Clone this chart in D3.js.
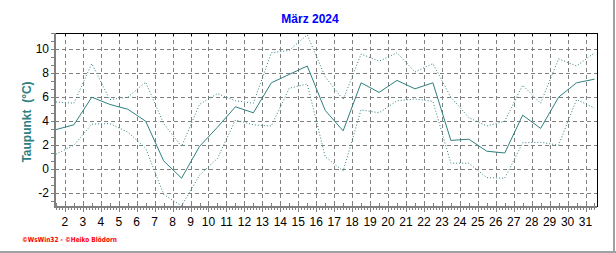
<!DOCTYPE html>
<html>
<head>
<meta charset="utf-8">
<script src="https://cdn.jsdelivr.net/npm/d3@7"></script>
<style>
  body { margin: 0; background: #fff; }
  svg { display: block; font-family: 'Liberation Sans', Arial, sans-serif; }
</style>
</head>
<body>
<div id="chart"></div>
<script>
// Taupunkt März 2024, daily values (mean, max, min)
const days = d3.range(1, 32)
const dewMean = [3.3, 3.7, 6.0, 5.4, 5.0, 4.0, 0.7, -0.75, 1.9, 3.5, 5.2, 4.7, 7.2, 7.9, 8.6, 4.9,
  3.2, 7.2, 6.4, 7.4, 6.7, 7.2, 2.4, 2.5, 1.5, 1.35, 4.5, 3.4, 6.0, 7.2, 7.5]
const dewMax = [5.6, 5.5, 8.8, 5.8, 6.0, 7.25, 3.8, 1.9, 5.4, 6.3, 5.7, 5.5, 9.7, 9.9, 11.2, 7.7,
  5.8, 9.6, 9.0, 9.7, 8.1, 8.8, 6.0, 4.3, 3.6, 4.0, 7.0, 5.5, 9.2, 8.6, 9.7]
const dewMin = [1.25, 2.0, 3.75, 3.8, 3.1, 1.75, -2.1, -3.05, -0.5, 0.9, 4.1, 3.7, 3.6, 6.75, 7.1, 1.05,
  -0.15, 4.95, 4.7, 5.7, 5.85, 5.65, 0.5, 0.5, -0.7, -0.75, 2.2, 2.25, 2.0, 5.8, 5.1]
const xTicks = d3.range(2, 32)
const yTicks = [-2, 0, 2, 4, 6, 8, 10]

const W = 616
const H = 253
const margin = { top: 33, right: 19, bottom: 46, left: 55 }
const lineColor = '#2f7f7f'
const gridColor = '#808080'

const svg = d3.select('#chart').append('svg')
  .attr('width', W)
  .attr('height', H)

const x = d3.scaleLinear().domain([1.45, 31.64]).range([margin.left, W - margin.right])
const y = d3.scaleLinear().domain([-3.15, 11.35]).range([H - margin.bottom, margin.top])

const x0 = x.range()[0]
const x1 = x.range()[1]
const y0 = y.range()[0]
const y1 = y.range()[1]

// outer frame shadow
svg.append('line').attr('x1', 614).attr('x2', 614).attr('y1', 0).attr('y2', H)
  .attr('stroke', '#a0a0a0').attr('stroke-width', 2)
svg.append('line').attr('x1', 0).attr('x2', W).attr('y1', 252).attr('y2', 252)
  .attr('stroke', '#a0a0a0').attr('stroke-width', 2)

// title
svg.append('text')
  .attr('x', 310).attr('y', 23)
  .attr('text-anchor', 'middle')
  .attr('fill', '#0000ff')
  .style('font-size', '12px')
  .style('font-weight', 'bold')
  .text('März 2024')

// grid
const grid = svg.append('g')
  .attr('stroke', gridColor)
  .attr('stroke-width', 1)
  .attr('stroke-dasharray', '4,3')
  .attr('shape-rendering', 'crispEdges')
grid.selectAll('.gy').data(yTicks).join('line')
  .attr('x1', x0).attr('x2', x1)
  .attr('y1', d => Math.round(y(d)) + 0.5).attr('y2', d => Math.round(y(d)) + 0.5)
grid.selectAll('.gx').data(xTicks).join('line')
  .attr('x1', d => Math.round(x(d)) + 0.5).attr('x2', d => Math.round(x(d)) + 0.5)
  .attr('y1', y1).attr('y2', y0)

// frame top/right
svg.append('path')
  .attr('d', `M${x0},${y1 + 0.5}H${x1 + 0.5}V${y0}`)
  .attr('fill', 'none').attr('stroke', '#000').attr('stroke-width', 1)
  .attr('shape-rendering', 'crispEdges')

// x axis ticks
const ax = svg.append('g').attr('stroke', gridColor).attr('shape-rendering', 'crispEdges')
const minorX = d3.range(Math.ceil(x.domain()[0] * 6), Math.floor(x.domain()[1] * 6) + 1).map(d => d / 6)
ax.selectAll('.mx').data(minorX).join('line')
  .attr('x1', d => Math.round(x(d)) + 0.5).attr('x2', d => Math.round(x(d)) + 0.5)
  .attr('y1', y0).attr('y2', y0 + 3)
ax.selectAll('.tx').data(xTicks).join('line')
  .attr('x1', d => Math.round(x(d)) + 0.5).attr('x2', d => Math.round(x(d)) + 0.5)
  .attr('y1', y0).attr('y2', y0 + 5)
ax.selectAll('.hx').data(days.map(d => d + 0.5).concat(xTicks)).join('line')
  .attr('x1', d => Math.round(x(d)) + 0.5).attr('x2', d => Math.round(x(d)) + 0.5)
  .attr('y1', y0 - 4).attr('y2', y0)

// top ticks
svg.append('g').attr('stroke', '#000').attr('shape-rendering', 'crispEdges')
  .selectAll('line').data(xTicks).join('line')
  .attr('x1', d => Math.round(x(d)) + 0.5).attr('x2', d => Math.round(x(d)) + 0.5)
  .attr('y1', y1).attr('y2', y1 + 3)

// y axis minor ticks
const minorY = d3.range(-9, 35).map(d => d * 2 / 3).filter(d => y(d) <= y0 && y(d) >= y1)
svg.append('g').attr('stroke', gridColor).attr('shape-rendering', 'crispEdges')
  .selectAll('line').data(minorY).join('line')
  .attr('x1', x0 - 4).attr('x2', x0)
  .attr('y1', d => Math.round(y(d)) + 0.5).attr('y2', d => Math.round(y(d)) + 0.5)

// axis lines (gray, thick)
svg.append('path')
  .attr('d', `M${x0 - 0},${y1}V${y0}H${x1}`)
  .attr('fill', 'none').attr('stroke', gridColor).attr('stroke-width', 2)
  .attr('shape-rendering', 'crispEdges')

// labels
svg.append('g')
  .selectAll('text').data(xTicks).join('text')
  .attr('x', d => x(d)).attr('y', 226)
  .attr('text-anchor', 'middle')
  .style('font-size', '12px')
  .text(d => d)

svg.append('g')
  .selectAll('text').data(yTicks).join('text')
  .attr('x', 49).attr('y', d => y(d) + 4)
  .attr('text-anchor', 'end')
  .style('font-size', '12px')
  .text(d => d)

svg.append('text')
  .attr('transform', 'translate(31,122) rotate(-90)')
  .attr('text-anchor', 'middle')
  .attr('fill', lineColor)
  .style('font-size', '12px')
  .style('font-weight', 'bold')
  .style('white-space', 'pre')
  .text('Taupunkt  (°C)')

// series
const line = d3.line().x((d, i) => x(days[i] + 0.5)).y(d => y(d))
const plot = svg.append('g').attr('fill', 'none').attr('stroke', lineColor).attr('stroke-width', 1)
plot.append('path').datum(dewMax).attr('d', line).attr('stroke-dasharray', '1,2')
plot.append('path').datum(dewMin).attr('d', line).attr('stroke-dasharray', '1,2')
plot.append('path').datum(dewMean).attr('d', line)

// credits
svg.append('text')
  .attr('x', 22).attr('y', 242)
  .attr('fill', '#ff0000')
  .attr('textLength', 95)
  .attr('lengthAdjust', 'spacingAndGlyphs')
  .style('font-family', 'DejaVu Sans')
  .style('font-size', '7px')
  .style('font-weight', 'bold')
  .text('©WsWin32 - ©Heiko Blödorn')
</script>
</body>
</html>
